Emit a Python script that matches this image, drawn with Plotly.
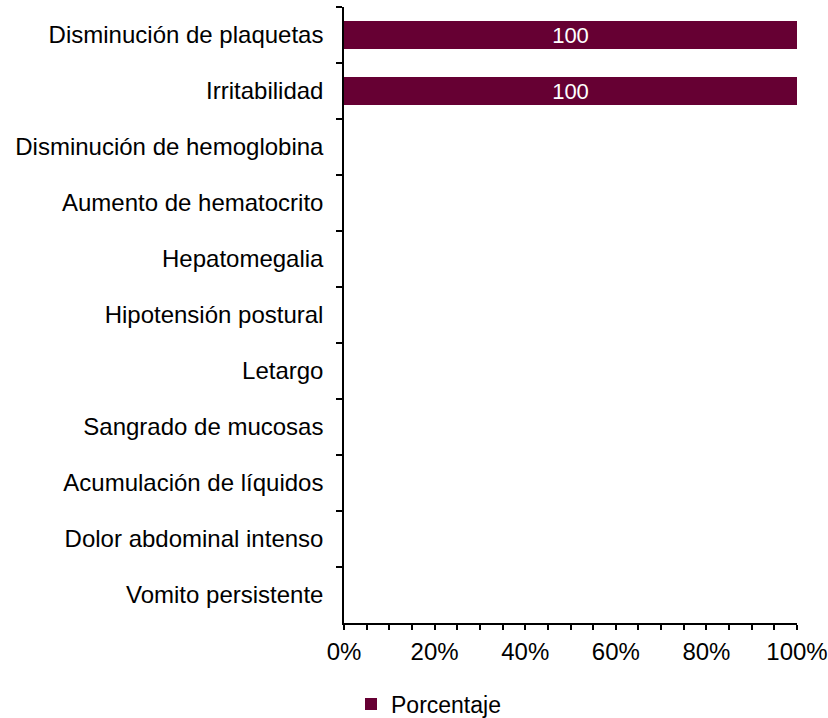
import plotly.graph_objects as go

categories = [
    "Disminución de plaquetas",
    "Irritabilidad",
    "Disminución de hemoglobina",
    "Aumento de hematocrito",
    "Hepatomegalia",
    "Hipotensión postural",
    "Letargo",
    "Sangrado de mucosas",
    "Acumulación de líquidos",
    "Dolor abdominal intenso",
    "Vomito persistente",
]
values = [100, 100, 0, 0, 0, 0, 0, 0, 0, 0, 0]
series_name = "Porcentaje"

fractions = [v / 100 for v in values]
labels = [str(v) if v > 0 else "" for v in values]

FONT = "Liberation Sans, Arial"

fig = go.Figure()
fig.add_trace(go.Bar(
    y=categories,
    x=fractions,
    orientation="h",
    name=series_name,
    marker=dict(color="#660033", line=dict(width=0)),
    text=labels,
    textposition="inside",
    insidetextanchor="middle",
    textfont=dict(color="white", size=22, family=FONT),
    showlegend=True,
))

fig.update_layout(
    width=828, height=718,
    margin=dict(l=344, r=31, t=7, b=95, autoexpand=False),
    paper_bgcolor="white", plot_bgcolor="white",
    font=dict(family=FONT, size=23, color="black"),
    bargap=0.5,
    showlegend=True,
    legend=dict(orientation="h", x=351 / 828, xref="container", xanchor="left",
                y=1 - 704 / 718, yref="container", yanchor="middle",
                font=dict(size=23), itemwidth=30),
    uniformtext=dict(mode="show", minsize=22),
)
fig.update_xaxes(
    range=[0, 1], tickformat=".0%", dtick=0.2, tick0=0,
    showgrid=False, zeroline=False, automargin=False,
    showline=True, linecolor="black", linewidth=1.5,
    ticks="outside", ticklen=5, tickcolor="black", tickwidth=1.5,
    minor=dict(dtick=0.05, ticks="outside", ticklen=5, tickcolor="black", tickwidth=1.5, showgrid=False),
    tickfont=dict(size=24),
    ticklabelstandoff=1,
)
fig.update_yaxes(
    type="category", categoryorder="array", categoryarray=categories,
    autorange="reversed",
    showgrid=False, zeroline=False, automargin=False,
    showline=True, linecolor="black", linewidth=1.5,
    ticks="outside", ticklen=6, tickcolor="black", tickwidth=1.5,
    tickson="boundaries",
    tickfont=dict(size=24),
    ticklabelstandoff=14,
)

fig.write_html(
    "out.html",
    config={"displayModeBar": False},
    post_script="document.body.style.margin='0px';document.body.style.overflow='hidden';",
)
